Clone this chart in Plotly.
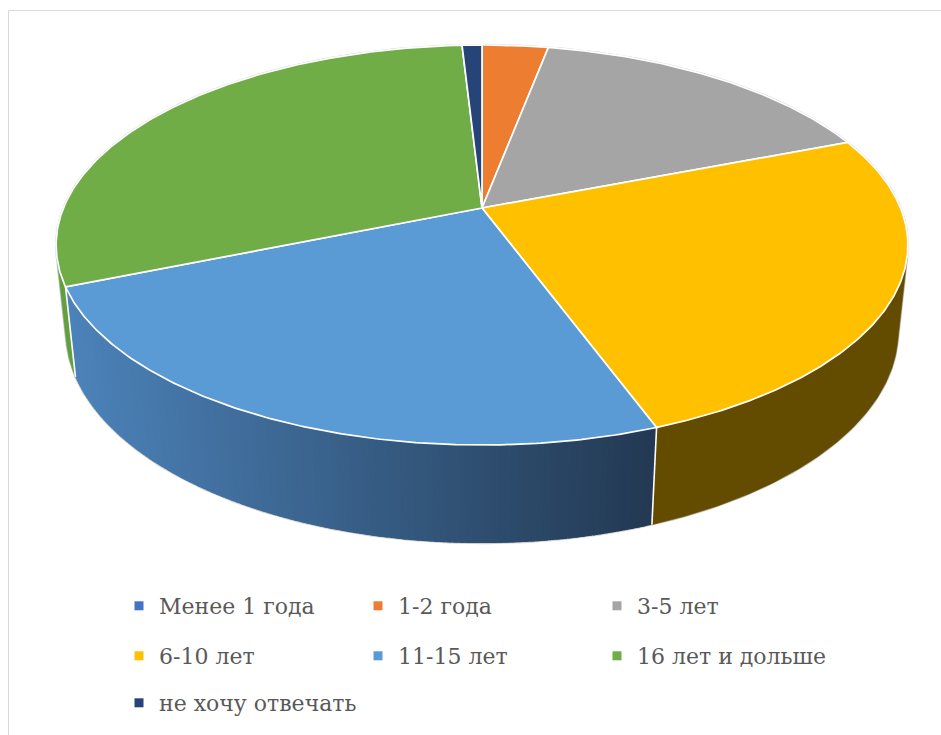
import math
import numpy as np
import plotly.graph_objects as go

# ---------------- data ----------------
categories = ["Менее 1 года", "1-2 года", "3-5 лет", "6-10 лет",
              "11-15 лет", "16 лет и дольше", "не хочу отвечать"]
values = [0, 3.0, 16.1, 25.3, 24.4, 30.3, 0.9]
top_colors = ["#4472C4", "#ED7D31", "#A5A5A5", "#FFC000",
              "#5B9BD5", "#70AD47", "#264478"]
side_colors = ["#33568f", "#b35d22", "#7c7c7c", "#634c00",
               None, "#62a03d", "#1c3359"]
gradient_left = (76, 131, 186)
gradient_right = (35, 57, 83)

# ---------------- geometry (3D perspective pie) ----------------
W, HPX = 941, 735
CX, CY = 482.0, 208.0
F, L = 2007.0, 4.795
SIN_A = 0.4615
COS_A = math.sqrt(1 - SIN_A ** 2)
THICK = 0.2357


def proj(theta_deg, r, z):
    t = np.radians(np.asarray(theta_deg, dtype=float))
    u = r * np.sin(t)
    v = r * np.cos(t)
    den = L + v * COS_A - z * SIN_A
    x = CX + F * u / den
    y = CY + F * (-v * SIN_A - z * COS_A) / den
    return np.atleast_1d(x), np.atleast_1d(y)


def arc(t0, t1, z):
    n = max(2, int(abs(t1 - t0) / 0.5) + 1)
    ts = np.linspace(t0, t1, n)
    return proj(ts, 1.0, z)


total = float(sum(values))
bounds = np.concatenate([[0.0], np.cumsum(values) / total * 360.0])

th_a = math.degrees(math.acos(-1.0 / (L * COS_A)))
th_b = 360.0 - th_a

fig = go.Figure()

# outer silhouette (thin grey edge)
xa, ya = arc(th_b - 360.0, th_a, 0.0)
xb, yb = arc(th_a, th_b, -THICK)
sx = np.concatenate([xa, xb, xa[:1]])
sy = np.concatenate([ya, yb, ya[:1]])
fig.add_trace(go.Scatter(x=sx, y=sy, mode="lines",
                         line=dict(color="#cfcfcf", width=2.2),
                         hoverinfo="skip", showlegend=False))

# side walls
for i, (name, val) in enumerate(zip(categories, values)):
    if val <= 0:
        continue
    s0, s1 = bounds[i], bounds[i + 1]
    lo, hi = max(s0, th_a), min(s1, th_b)
    if lo >= hi:
        continue
    if side_colors[i] is not None:
        tx, ty = arc(lo, hi, 0.0)
        bx, by = arc(hi, lo, -THICK)
        px = np.concatenate([tx, bx, tx[:1]])
        py = np.concatenate([ty, by, ty[:1]])
        fig.add_trace(go.Scatter(x=px, y=py, mode="lines", fill="toself",
                                 fillcolor=side_colors[i],
                                 line=dict(color=side_colors[i], width=0.6),
                                 hoverinfo="skip", showlegend=False))
    else:
        xl, _ = proj(lo, 1.0, 0.0)
        xr, _ = proj(hi, 1.0, 0.0)
        xl, xr = float(xl[0]), float(xr[0])
        edges = np.linspace(hi, lo, 120)
        for a0, a1 in zip(edges[:-1], edges[1:]):
            # strips painted right-to-left, each slightly overlapping the previous one
            s_lo, s_hi = a1, min(hi, a0 + 0.6)
            tx, ty = arc(s_lo, s_hi, 0.0)
            bx, by = arc(s_hi, s_lo, -THICK)
            px = np.concatenate([tx, bx, tx[:1]])
            py = np.concatenate([ty, by, ty[:1]])
            mx, _ = proj(0.5 * (a0 + a1), 1.0, 0.0)
            f = min(1.0, max(0.0, (float(mx[0]) - min(xl, xr)) / abs(xr - xl)))
            c = tuple(int(round(gradient_left[k] + f * (gradient_right[k] - gradient_left[k])))
                      for k in range(3))
            col = "rgb(%d,%d,%d)" % c
            fig.add_trace(go.Scatter(x=px, y=py, mode="lines", fill="toself",
                                     fillcolor=col, line=dict(width=0),
                                     hoverinfo="skip", showlegend=False))

# white boundaries between walls
for b in bounds[1:-1]:
    if th_a < b < th_b:
        x0, y0 = proj(b, 1.0, 0.0)
        x1, y1 = proj(b, 1.0, -THICK)
        fig.add_trace(go.Scatter(x=[x0[0], x1[0]], y=[y0[0], y1[0]], mode="lines",
                                 line=dict(color="white", width=1.6),
                                 hoverinfo="skip", showlegend=False))

# top faces
for i, (name, val) in enumerate(zip(categories, values)):
    if val <= 0:
        continue
    s0, s1 = bounds[i], bounds[i + 1]
    ax_, ay_ = arc(s0, s1, 0.0)
    cx0, cy0 = proj(0.0, 0.0, 0.0)
    px = np.concatenate([cx0, ax_, cx0])
    py = np.concatenate([cy0, ay_, cy0])
    fig.add_trace(go.Scatter(x=px, y=py, mode="lines", fill="toself",
                             fillcolor=top_colors[i],
                             line=dict(color="white", width=1.7),
                             hoverinfo="skip", showlegend=False))

# legend entries
legend_ids = ["legend", "legend", "legend", "legend2", "legend2", "legend2", "legend3"]
for i, name in enumerate(categories):
    fig.add_trace(go.Scatter(x=[None], y=[None], mode="markers", name=name,
                             marker=dict(symbol="square", size=9, color=top_colors[i]),
                             legend=legend_ids[i], showlegend=True))

leg_common = dict(orientation="h", font=dict(family="DejaVu Serif", size=22, color="#595959"),
                  bgcolor="rgba(0,0,0,0)", entrywidth=194, entrywidthmode="pixels",
                  x=119 / W, xanchor="left", yanchor="middle", traceorder="normal",
                  itemclick=False, itemdoubleclick=False)

fig.update_layout(
    width=W, height=HPX, autosize=False,
    margin=dict(l=0, r=0, t=0, b=0, pad=0),
    paper_bgcolor="white", plot_bgcolor="white",
    xaxis=dict(range=[0, W], visible=False, fixedrange=True),
    yaxis=dict(range=[HPX, 0], visible=False, fixedrange=True),
    legend=dict(leg_common, y=1 - 606 / HPX),
    legend2=dict(leg_common, y=1 - 656 / HPX),
    legend3=dict(leg_common, y=1 - 703 / HPX),
    shapes=[dict(type="rect", xref="x", yref="y", x0=8.5, y0=10.5, x1=980, y1=780,
                 line=dict(color="#d9d9d9", width=1), fillcolor="rgba(0,0,0,0)")],
    showlegend=True,
)

fig.write_html("out.html")
